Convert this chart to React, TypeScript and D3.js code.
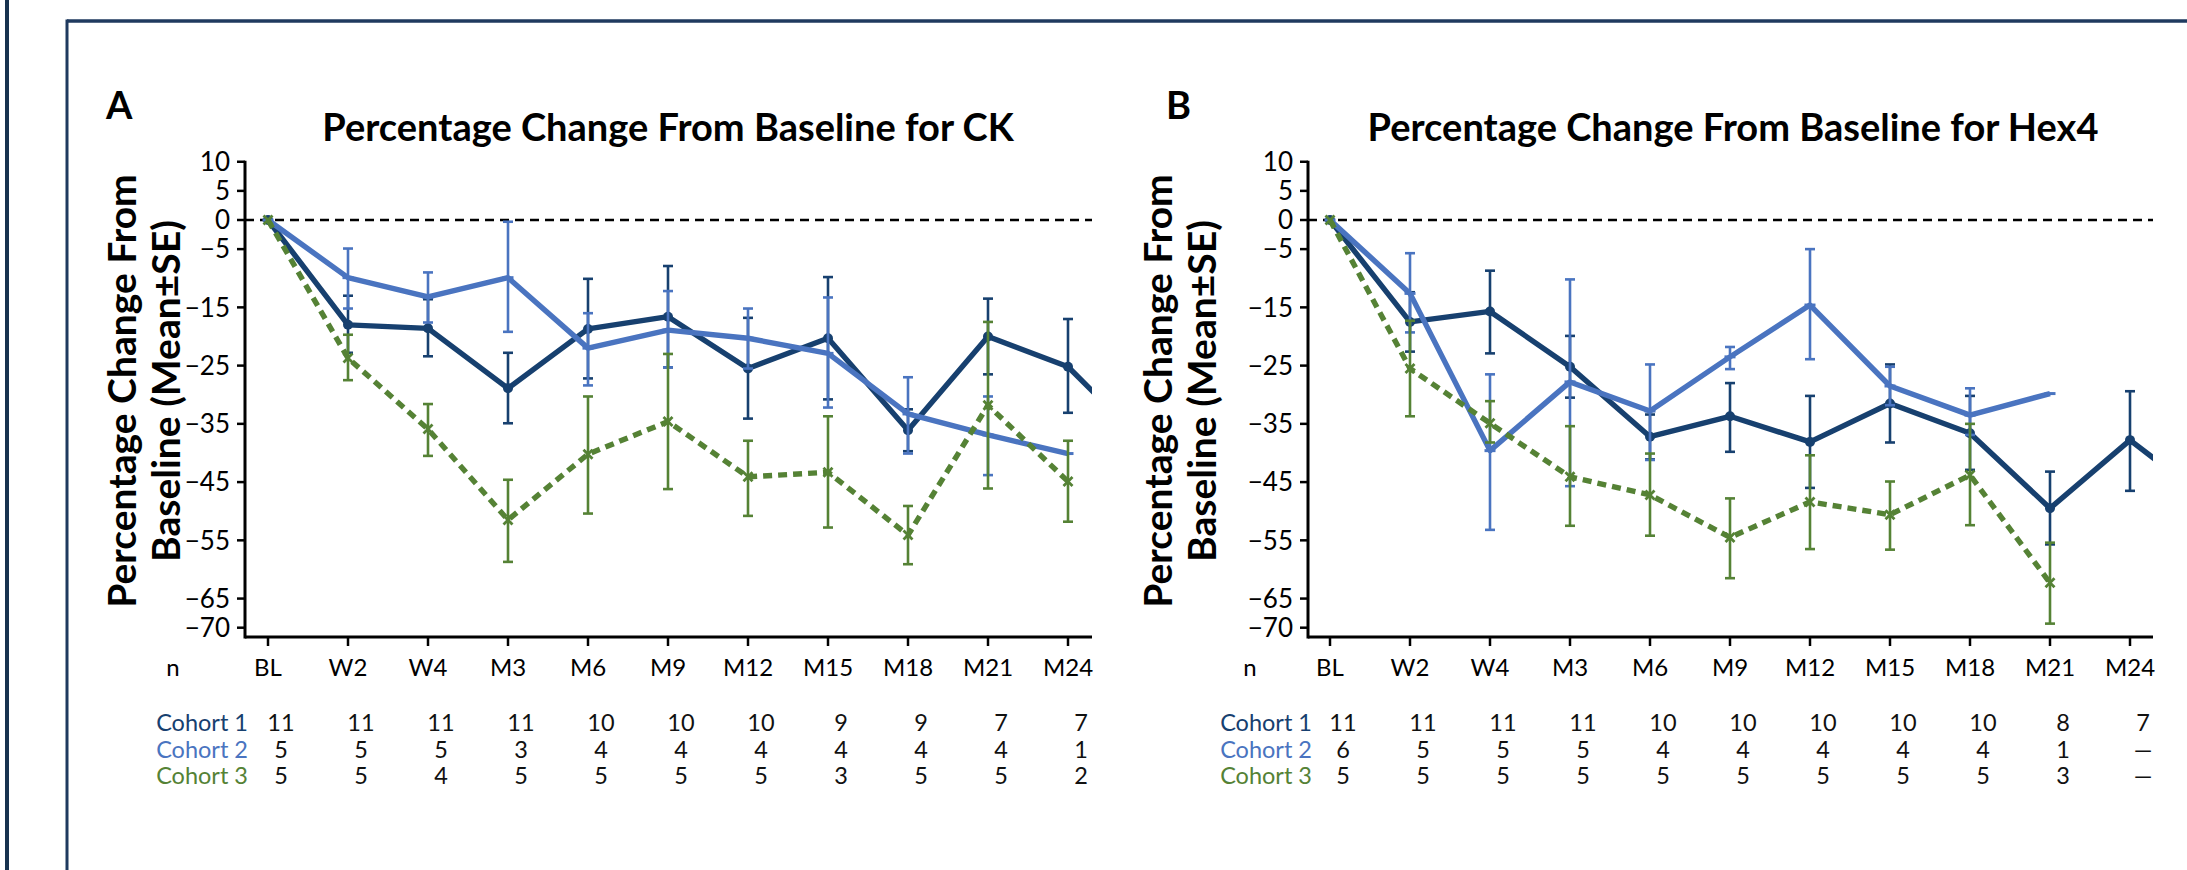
import React, { useEffect } from 'react';
import * as d3 from 'd3';

// time points and y ticks
const timepoints = ['BL', 'W2', 'W4', 'M3', 'M6', 'M9', 'M12', 'M15', 'M18', 'M21', 'M24'];
const yTicks = [10, 5, 0, -5, -15, -25, -35, -45, -55, -65, -70];

// Panel A - CK (cohort 1 has one more point past M24, clipped by the axis)
const ckC1Mean = [0, -18.0, -18.6, -28.9, -18.7, -16.6, -25.5, -20.3, -36.1, -20.0, -25.2, -38.9];
const ckC1Hi = [null, -13.0, -13.6, -22.8, -10.1, -7.9, -16.8, -9.8, -32.5, -13.5, -17.0];
const ckC1Lo = [null, -22.8, -23.4, -34.9, -27.2, -25.3, -34.1, -30.8, -39.7, -26.5, -33.1];
const ckC2Mean = [0, -9.9, -13.2, -9.9, -22.0, -18.9, -20.3, -22.9, -33.3, -36.9, -40.1];
const ckC2Hi = [null, -4.9, -9.0, -0.3, -16.0, -12.2, -15.2, -13.3, -27.0, -30.3, null];
const ckC2Lo = [null, -15.2, -17.6, -19.2, -28.4, -25.3, -25.5, -32.2, -40.1, -43.8, null];
const ckC3Mean = [0, -23.7, -35.9, -51.5, -40.2, -34.6, -44.1, -43.3, -54.1, -31.8, -44.9];
const ckC3Hi = [null, -19.7, -31.6, -44.6, -30.3, -23.0, -37.9, -33.7, -49.1, -17.5, -37.9];
const ckC3Lo = [null, -27.5, -40.5, -58.7, -50.4, -46.2, -50.8, -52.8, -59.1, -46.1, -51.8];
const ckN1 = ['11', '11', '11', '11', '10', '10', '10', '9', '9', '7', '7'];
const ckN2 = ['5', '5', '5', '3', '4', '4', '4', '4', '4', '4', '1'];
const ckN3 = ['5', '5', '4', '5', '5', '5', '5', '3', '5', '5', '2'];

// Panel B - Hex4
const hxC1Mean = [0, -17.5, -15.7, -25.2, -37.2, -33.7, -38.1, -31.5, -36.6, -49.5, -37.8, -48.3];
const hxC1Hi = [null, -12.4, -8.7, -19.9, -33.4, -28.0, -30.2, -24.8, -30.2, -43.2, -29.4];
const hxC1Lo = [null, -22.6, -22.9, -30.5, -41.1, -39.8, -46.0, -38.2, -42.9, -55.7, -46.5];
const hxC2Mean = [0, -12.6, -39.6, -27.8, -32.8, -23.5, -14.6, -28.5, -33.5, -29.8];
const hxC2Hi = [null, -5.7, -26.5, -10.2, -24.8, -21.8, -5.0, -25.2, -28.9, null];
const hxC2Lo = [null, -19.3, -53.2, -45.7, -41.2, -25.6, -23.9, -31.8, -36.9, null];
const hxC3Mean = [0, -25.5, -34.9, -44.1, -47.2, -54.5, -48.4, -50.6, -43.8, -62.3];
const hxC3Hi = [null, -17.3, -31.1, -35.4, -40.1, -47.8, -40.4, -44.9, -35.0, -55.4];
const hxC3Lo = [null, -33.7, -38.2, -52.5, -54.2, -61.5, -56.5, -56.6, -52.4, -69.3];
const hxN1 = ['11', '11', '11', '11', '10', '10', '10', '10', '10', '8', '7'];
const hxN2 = ['6', '5', '5', '5', '4', '4', '4', '4', '4', '1', '\u2014'];
const hxN3 = ['5', '5', '5', '5', '5', '5', '5', '5', '5', '3', '\u2014'];

const cohortNames = ['Cohort 1', 'Cohort 2', 'Cohort 3'];
const C1 = '#17406f';
const C2 = '#4a74c0';
const C3 = '#558235';
const FONT = 'Lato, "Open Sans", sans-serif';

const W = 2187;
const H = 870;

const y = d3.scaleLinear().domain([0, -70]).range([220, 627.7]);
const xAxisY = 637;

type Series = { mean: number[]; hi: (number | null)[]; lo: (number | null)[]; color: string; kind: string };

const Panel = ({ id, letter, letterX, title, titleX, axisX, blX, endX, yLab1, yLab2, nX, cohortX, series, counts }: any) => {
  const x = d3.scaleLinear().domain([0, 10]).range([blX, blX + 800]);
  const line = d3.line<number>().x((d, i) => x(i)).y(d => y(d));

  return (
    <g>
      <defs>
        <clipPath id={id}>
          <rect x={axisX} y={0} width={endX - axisX} height={H} />
        </clipPath>
      </defs>
      <text x={letterX} y={119} fontFamily={FONT} fontWeight="bold" fontSize={38}>{letter}</text>
      <text x={titleX} y={141} textAnchor="middle" fontFamily={FONT} fontWeight="bold" fontSize={38}>{title}</text>

      {/* y label */}
      <g fontFamily={FONT} fontWeight="bold" fontSize={39} textAnchor="middle">
        <text transform={`translate(${yLab1},391) rotate(-90)`}>Percentage Change From</text>
        <text transform={`translate(${yLab2},391) rotate(-90)`}>Baseline (Mean±SE)</text>
      </g>

      {/* axes */}
      <line x1={axisX} x2={axisX} y1={y(10) - 1} y2={xAxisY + 1.5} stroke="#000" strokeWidth={3} />
      <line x1={axisX} x2={endX} y1={xAxisY} y2={xAxisY} stroke="#000" strokeWidth={3} />
      {yTicks.map(t => (
        <g key={t}>
          <line x1={axisX - 8} x2={axisX} y1={y(t)} y2={y(t)} stroke="#000" strokeWidth={2.5} />
          <text x={axisX - 15} y={y(t)} dy="0.36em" textAnchor="end" fontFamily={FONT} fontSize={26}>
            {t < 0 ? '\u2212' + Math.abs(t) : t}
          </text>
        </g>
      ))}
      {timepoints.map((t, i) => (
        <g key={t}>
          <line x1={x(i)} x2={x(i)} y1={xAxisY} y2={xAxisY + 9} stroke="#000" strokeWidth={2.5} />
          <text x={x(i)} y={667} dy="0.36em" textAnchor="middle" fontFamily={FONT} fontSize={24}>{t}</text>
        </g>
      ))}
      <line x1={axisX} x2={endX} y1={y(0)} y2={y(0)} stroke="#000" strokeWidth={2.5} strokeDasharray="9 6" />

      {/* series */}
      <g clipPath={`url(#${id})`}>
        {series.map((s: Series, k: number) => (
          <g key={k}>
            {s.hi.map((h, i) => h == null || s.lo[i] == null ? null : (
              <g key={i} stroke={s.color} strokeWidth={2.6}>
                <line x1={x(i)} x2={x(i)} y1={y(h)} y2={y(s.lo[i] as number)} />
                <line x1={x(i) - 5} x2={x(i) + 5} y1={y(h)} y2={y(h)} />
                <line x1={x(i) - 5} x2={x(i) + 5} y1={y(s.lo[i] as number)} y2={y(s.lo[i] as number)} />
              </g>
            ))}
            <path d={line(s.mean) || ''} fill="none" stroke={s.color} strokeWidth={5.4}
              strokeDasharray={s.kind === 'x' ? '9 6' : undefined} strokeLinejoin="round" />
            {s.mean.slice(0, 11).map((v, i) => s.kind === 'circle' ? (
              <circle key={i} cx={x(i)} cy={y(v)} r={5} fill={s.color} />
            ) : s.kind === 'x' ? (
              <path key={i} d={`M${x(i) - 4.5},${y(v) - 4.5}L${x(i) + 4.5},${y(v) + 4.5}M${x(i) - 4.5},${y(v) + 4.5}L${x(i) + 4.5},${y(v) - 4.5}`}
                stroke={s.color} strokeWidth={2.8} />
            ) : (
              <line key={i} x1={x(i) - 5.5} x2={x(i) + 5.5} y1={y(v)} y2={y(v)} stroke={s.color} strokeWidth={3} />
            ))}
          </g>
        ))}
      </g>

      {/* n table */}
      <text x={nX} y={667} dy="0.36em" textAnchor="middle" fontFamily={FONT} fontSize={24}>n</text>
      {counts.map((row: string[], r: number) => (
        <g key={r} fontFamily={FONT} fontSize={23.5}>
          <text x={cohortX} y={723 + r * 26.5} dy="0.36em" textAnchor="end" fill={[C1, C2, C3][r]}>{cohortNames[r]}</text>
          {row.map((c, i) => (
            <text key={i} x={x(i) + 13} y={723 + r * 26.5} dy="0.36em" textAnchor="middle" fill="#111">{c}</text>
          ))}
        </g>
      ))}
    </g>
  );
};

const App = () => {
  useEffect(() => {
    document.body.style.margin = '0';
    document.body.style.overflow = 'hidden';
  }, []);

  const ckSeries = [
    { mean: ckC1Mean, hi: ckC1Hi, lo: ckC1Lo, color: C1, kind: 'circle' },
    { mean: ckC2Mean, hi: ckC2Hi, lo: ckC2Lo, color: C2, kind: 'dash' },
    { mean: ckC3Mean, hi: ckC3Hi, lo: ckC3Lo, color: C3, kind: 'x' },
  ];
  const hxSeries = [
    { mean: hxC1Mean, hi: hxC1Hi, lo: hxC1Lo, color: C1, kind: 'circle' },
    { mean: hxC2Mean, hi: hxC2Hi, lo: hxC2Lo, color: C2, kind: 'dash' },
    { mean: hxC3Mean, hi: hxC3Hi, lo: hxC3Lo, color: C3, kind: 'x' },
  ];

  return (
    <svg width={W} height={H} viewBox={`0 0 ${W} ${H}`} style={{ display: 'block', background: '#fff' }}>
      {/* page frame */}
      <line x1={7} x2={7} y1={0} y2={H} stroke="#17324f" strokeWidth={4} />
      <line x1={67} x2={W} y1={21} y2={21} stroke="#1f3a5f" strokeWidth={3.5} />
      <line x1={67} x2={67} y1={19.5} y2={H} stroke="#1f3a5f" strokeWidth={3} />

      <Panel id="clipA" letter="A" letterX={106} title="Percentage Change From Baseline for CK" titleX={668}
        axisX={245} blX={268} endX={1092} yLab1={136} yLab2={180} nX={173} cohortX={248}
        series={ckSeries} counts={[ckN1, ckN2, ckN3]} />
      <Panel id="clipB" letter="B" letterX={1166} title="Percentage Change From Baseline for Hex4" titleX={1733}
        axisX={1308} blX={1330} endX={2153} yLab1={1172} yLab2={1216} nX={1250} cohortX={1312}
        series={hxSeries} counts={[hxN1, hxN2, hxN3]} />
    </svg>
  );
};

export default App;
